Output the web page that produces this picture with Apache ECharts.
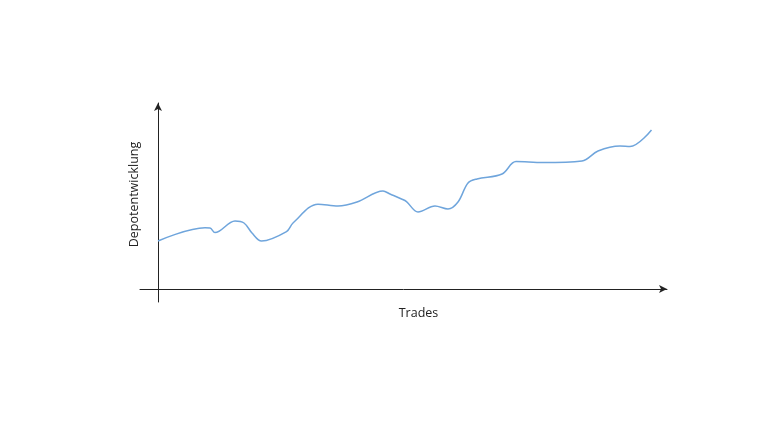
<!DOCTYPE html>
<html>
<head>
<meta charset="utf-8">
<script src="https://cdn.jsdelivr.net/npm/echarts@6/dist/echarts.min.js"></script>
<style>
  html, body { margin: 0; padding: 0; background: #fff; }
  #chart { width: 768px; height: 431px; }
</style>
</head>
<body>
<div id="chart"></div>
<script>
// trade index and depot value (arbitrary units)
const trades = [0, 9.4, 10.4, 11.4, 15.4, 17.2, 18.8, 20.7, 25.7, 27, 32, 36, 39.8, 45, 46.4, 48.7, 49.7, 52, 55.4, 58, 60, 62, 63.8, 68.8, 71.6, 77, 84.8, 88, 92.4, 94.4, 98.7]
const depot = [24, 30.6, 30.5, 28.2, 34, 33, 28, 24, 28.7, 33, 42.4, 41.5, 43.5, 49, 47.5, 45, 43.7, 38.5, 41.5, 40, 43.5, 53, 55, 57.5, 63.7, 63.2, 64, 69, 71.5, 71.2, 79.5]

const xName = 'Trades'
const yName = 'Depotentwicklung'

const chart = echarts.init(document.getElementById('chart'), null, { renderer: 'canvas' })

const axisLine = {
  onZero: true,
  symbol: ['none', 'arrow'],
  symbolSize: [6, 8],
  lineStyle: { color: '#222', width: 1 },
}

chart.setOption({
  animation: false,
  grid: { left: 140, right: 101, top: 103, bottom: 129, containLabel: false },
  xAxis: {
    type: 'value',
    min: -3.6,
    max: 101.8,
    name: xName,
    nameLocation: 'middle',
    nameGap: 5,
    nameTextStyle: { color: '#222', fontSize: 12.5, fontFamily: 'Open Sans', padding: [0, 0, 0, 30] },
    axisLine,
    axisTick: { show: false },
    axisLabel: { show: false },
    splitLine: { show: false },
  },
  yAxis: {
    type: 'value',
    min: -6.5,
    max: 93,
    name: yName,
    nameLocation: 'middle',
    nameGap: -1,
    nameTextStyle: { color: '#222', fontSize: 12.5, fontFamily: 'Open Sans', padding: [0, 0, 0, 16] },
    axisLine,
    axisTick: { show: false },
    axisLabel: { show: false },
    splitLine: { show: false },
  },
  series: [{
    type: 'line',
    data: trades.map((t, i) => [t, depot[i]]),
    smooth: 0.35,
    symbol: 'none',
    lineStyle: { color: '#6fa5dc', width: 1.5 },
  }],
})
</script>
</body>
</html>
